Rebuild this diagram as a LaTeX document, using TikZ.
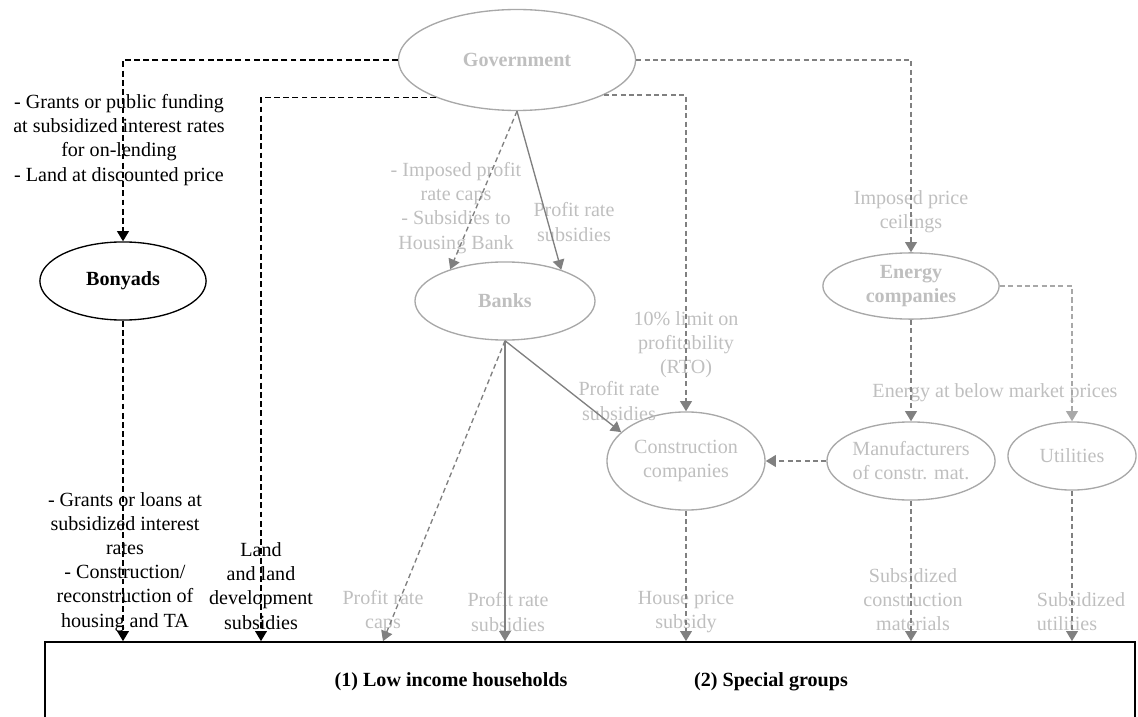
\documentclass[tikz,border=0pt]{standalone}
\usepackage{fontspec}
\setmainfont{Liberation Serif}
\usetikzlibrary{arrows.meta,shapes.geometric}
\definecolor{lblgray}{RGB}{191,191,191}
\definecolor{rimgray}{RGB}{168,168,168}
\definecolor{arrgray}{RGB}{128,128,128}

\begin{document}
\begin{tikzpicture}[x=0.021cm, y=-0.021cm, >={Triangle[length=6pt,width=7pt]},
    font=\fontsize{12}{14.4}\selectfont,
    actor/.style={ellipse, draw=rimgray, line width=0.8pt, text=lblgray, align=center, inner sep=0pt},
    lbl/.style={text=lblgray, align=center, inner sep=0pt},
    blbl/.style={text=black, align=center, inner sep=0pt},
    flow/.style={->, arrgray, line width=0.8pt, dash pattern=on 3pt off 2pt},
    bflow/.style={->, black, line width=0.8pt, dash pattern=on 3.5pt off 2pt},
    pay/.style={->, arrgray, line width=0.8pt}]
    \useasboundingbox (0,0) rectangle (1138,717);

    % actors
    \node[actor, minimum width=4.98cm, minimum height=2.12cm, font=\fontsize{12}{14.4}\selectfont\bfseries] (gov) at (517,60) {Government};
    \node[actor, draw=black, text=black, minimum width=3.49cm, minimum height=1.64cm, font=\fontsize{12}{14.4}\selectfont\bfseries] (bon) at (123,281) {Bonyads};
    \node[actor, minimum width=3.78cm, minimum height=1.64cm, font=\fontsize{12}{14.4}\selectfont\bfseries] (bk) at (505,301) {Banks};
    \node[actor, minimum width=3.70cm, minimum height=1.39cm, font=\fontsize{12}{14.4}\selectfont\bfseries] (en) at (911,286) {Energy\\companies};
    \node[actor, minimum width=3.32cm, minimum height=2.06cm] (con) at (686,461) {Construction\\companies};
    \node[actor, minimum width=3.53cm, minimum height=1.64cm] (man) at (911,461) {Manufacturers\\of constr. mat.};
    \node[actor, minimum width=2.69cm, minimum height=1.43cm] (ut) at (1072,456) {Utilities};

    % target groups (box runs off the page at the bottom)
    \node[draw, line width=1pt, minimum width=22.89cm, minimum height=2.1cm, inner sep=0pt] (hh) at (590,692) {};
    \node[font=\fontsize{12}{14.4}\selectfont\bfseries] (low) at (451,682) {(1) Low income households};
    \node[font=\fontsize{12}{14.4}\selectfont\bfseries] (spec) at (771,682) {(2) Special groups};

    % labels
    \node[blbl] (grants) at (119,140) {- Grants or public funding\\at subsidized interest rates\\for on-lending\\- Land at discounted price};
    \node[blbl] (loans) at (125,562) {- Grants or loans at\\subsidized interest\\rates\\- Construction/\\reconstruction of\\housing and TA};
    \node[blbl] (land) at (261,586) {Land\\and land\\development\\subsidies};
    \node[lbl] (caprule) at (456,208) {- Imposed profit\\rate caps\\- Subsidies to\\Housing Bank};
    \node[lbl] (banksub) at (574,222) {Profit rate\\subsidies};
    \node[lbl] (rto) at (686,345) {10\% limit on\\profitability\\(RTO)};
    \node[lbl] (ceil) at (911,212) {Imposed price\\ceilings};
    \node[lbl] (below) at (995,393) {Energy at below market prices};
    \node[lbl] (consub) at (619,401) {Profit rate\\subsidies};
    \node[lbl] (caps) at (383,612) {Profit rate\\caps};
    \node[lbl] (hhsub) at (508,612) {Profit rate\\subsidies};
    \node[lbl] (house) at (686,612) {House price\\subsidy};
    \node[lbl] (mat) at (913,600) {Subsidized\\construction\\materials};
    \node[lbl, align=left] (util) at (1081,612) {Subsidized\\utilities};

    % flows
    \draw[bflow] (gov.west) -| (bon.north);
    \draw[bflow] (gov.205) -| (land |- hh.north);
    \draw[bflow] (bon.south) -- (bon.south |- hh.north);

    \draw[flow] (gov.east) -| (en.north);
    \draw[flow] (gov.338) -| (con.north);
    \draw[flow] (gov.south) -- (bk.150);
    \draw[pay] (gov.south) -- (bk.29);

    \draw[flow] (bk.south) -- (caps |- hh.north);
    \draw[pay] (bk.south) -- (bk.south |- hh.north);
    \draw[pay] (bk.south) -- (con.156);

    \draw[flow] (con.south) -- (con.south |- hh.north);
    \draw[flow] (man.west) -- (con.east);
    \draw[flow] (en.south) -- (man.north);
    \draw[flow, rimgray] (en.east) -| (ut.north);
    \draw[flow] (man.south) -- (man.south |- hh.north);
    \draw[flow] (ut.south) -- (ut.south |- hh.north);
\end{tikzpicture}
\end{document}
